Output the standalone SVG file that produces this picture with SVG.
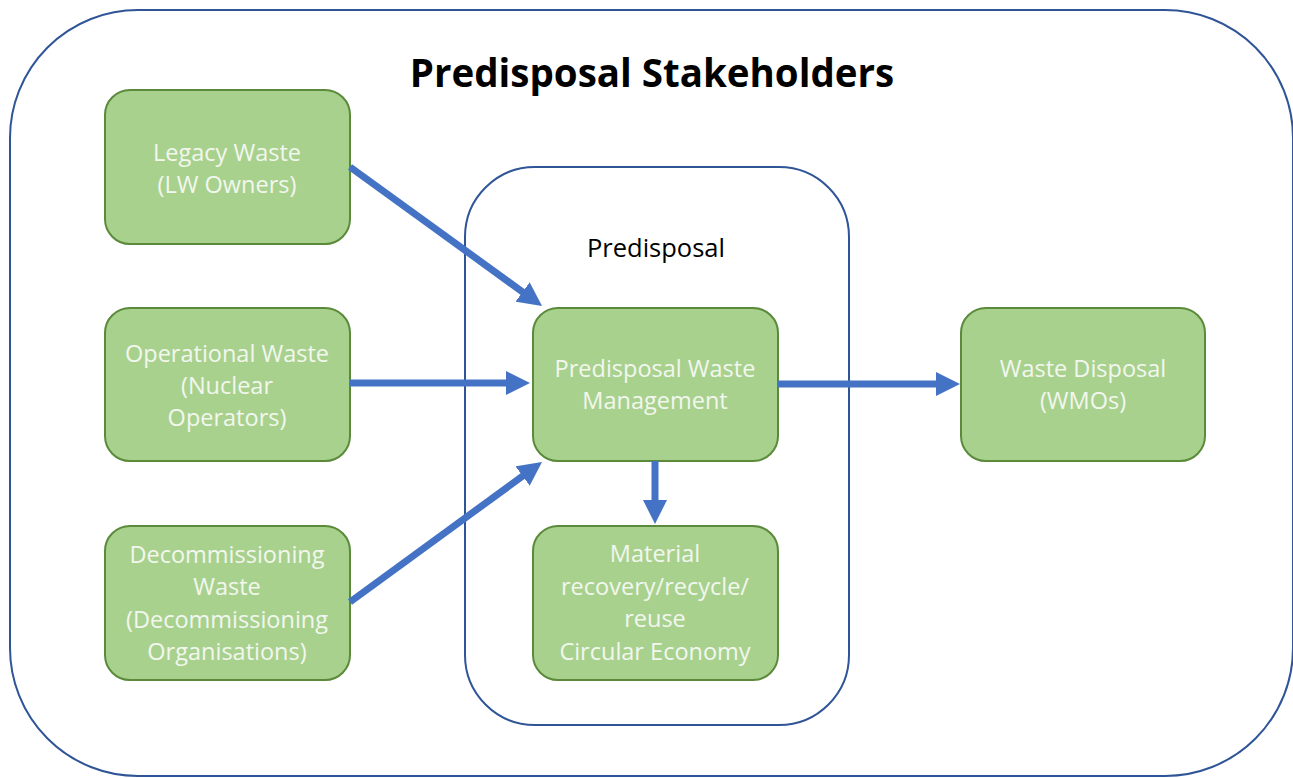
<svg xmlns="http://www.w3.org/2000/svg" width="1293" height="778" viewBox="0 0 1293 778">
<style>
.frame{fill:none;stroke:#2f5597;stroke-width:2}
.box{fill:#a9d18e;stroke:#5a8a3a;stroke-width:2}
.bt{font-family:"Open Sans",sans-serif;font-size:23.5px;fill:#f2f7ee;text-anchor:middle}
.title{font-family:"Open Sans",sans-serif;font-size:38.5px;font-weight:bold;fill:#000;text-anchor:middle}
.lbl{font-family:"Open Sans",sans-serif;font-size:25.5px;fill:#000;text-anchor:middle}
.arr{stroke:#4472c4;stroke-width:7;fill:none;marker-end:url(#ah)}
</style>
<defs>
<marker id="ah" markerUnits="userSpaceOnUse" markerWidth="24" markerHeight="24" refX="10" refY="12" orient="auto">
<path d="M0,0 L24,12 L0,24 z" fill="#4472c4"/>
</marker>
</defs>
<rect width="1293" height="778" fill="#fff"/>
<g id="outer-frame">
<rect class="frame" x="10" y="10" width="1283" height="766" rx="128" ry="128"/>
<text class="title" x="652" y="87">Predisposal Stakeholders</text>
</g>
<g id="predisposal-frame">
<rect class="frame" x="465" y="167" width="384" height="558" rx="70" ry="70"/>
<text class="lbl" x="656" y="257">Predisposal</text>
</g>
<g id="legacy">
<rect class="box" x="105" y="90" width="245" height="154" rx="25"/>
<text class="bt" x="227" y="161">Legacy Waste</text>
<text class="bt" x="227" y="193">(LW Owners)</text>
</g>
<g id="operational">
<rect class="box" x="105" y="308" width="245" height="153" rx="25"/>
<text class="bt" x="227" y="362">Operational Waste</text>
<text class="bt" x="227" y="394">(Nuclear</text>
<text class="bt" x="227" y="426">Operators)</text>
</g>
<g id="decommissioning">
<rect class="box" x="105" y="526" width="245" height="154" rx="25"/>
<text class="bt" x="227" y="563">Decommissioning</text>
<text class="bt" x="227" y="595">Waste</text>
<text class="bt" x="227" y="628">(Decommissioning</text>
<text class="bt" x="227" y="660">Organisations)</text>
</g>
<g id="pwm">
<rect class="box" x="533" y="308" width="245" height="153" rx="25"/>
<text class="bt" x="655" y="377">Predisposal Waste</text>
<text class="bt" x="655" y="409">Management</text>
</g>
<g id="material">
<rect class="box" x="533" y="526" width="245" height="154" rx="25"/>
<text class="bt" x="655" y="562">Material</text>
<text class="bt" x="655" y="595">recovery/recycle/</text>
<text class="bt" x="655" y="627">reuse</text>
<text class="bt" x="655" y="660">Circular Economy</text>
</g>
<g id="disposal">
<rect class="box" x="961" y="308" width="244" height="153" rx="25"/>
<text class="bt" x="1083" y="377">Waste Disposal</text>
<text class="bt" x="1083" y="409">(WMOs)</text>
</g>
<g id="connectors">
<line class="arr" x1="350" y1="167" x2="530.7" y2="297.8"/>
<line class="arr" x1="350" y1="383" x2="516" y2="383"/>
<line class="arr" x1="350" y1="602" x2="530.7" y2="470.2"/>
<line class="arr" x1="778" y1="384" x2="946" y2="384"/>
<line class="arr" x1="655" y1="461" x2="655" y2="510"/>
</g>
</svg>
